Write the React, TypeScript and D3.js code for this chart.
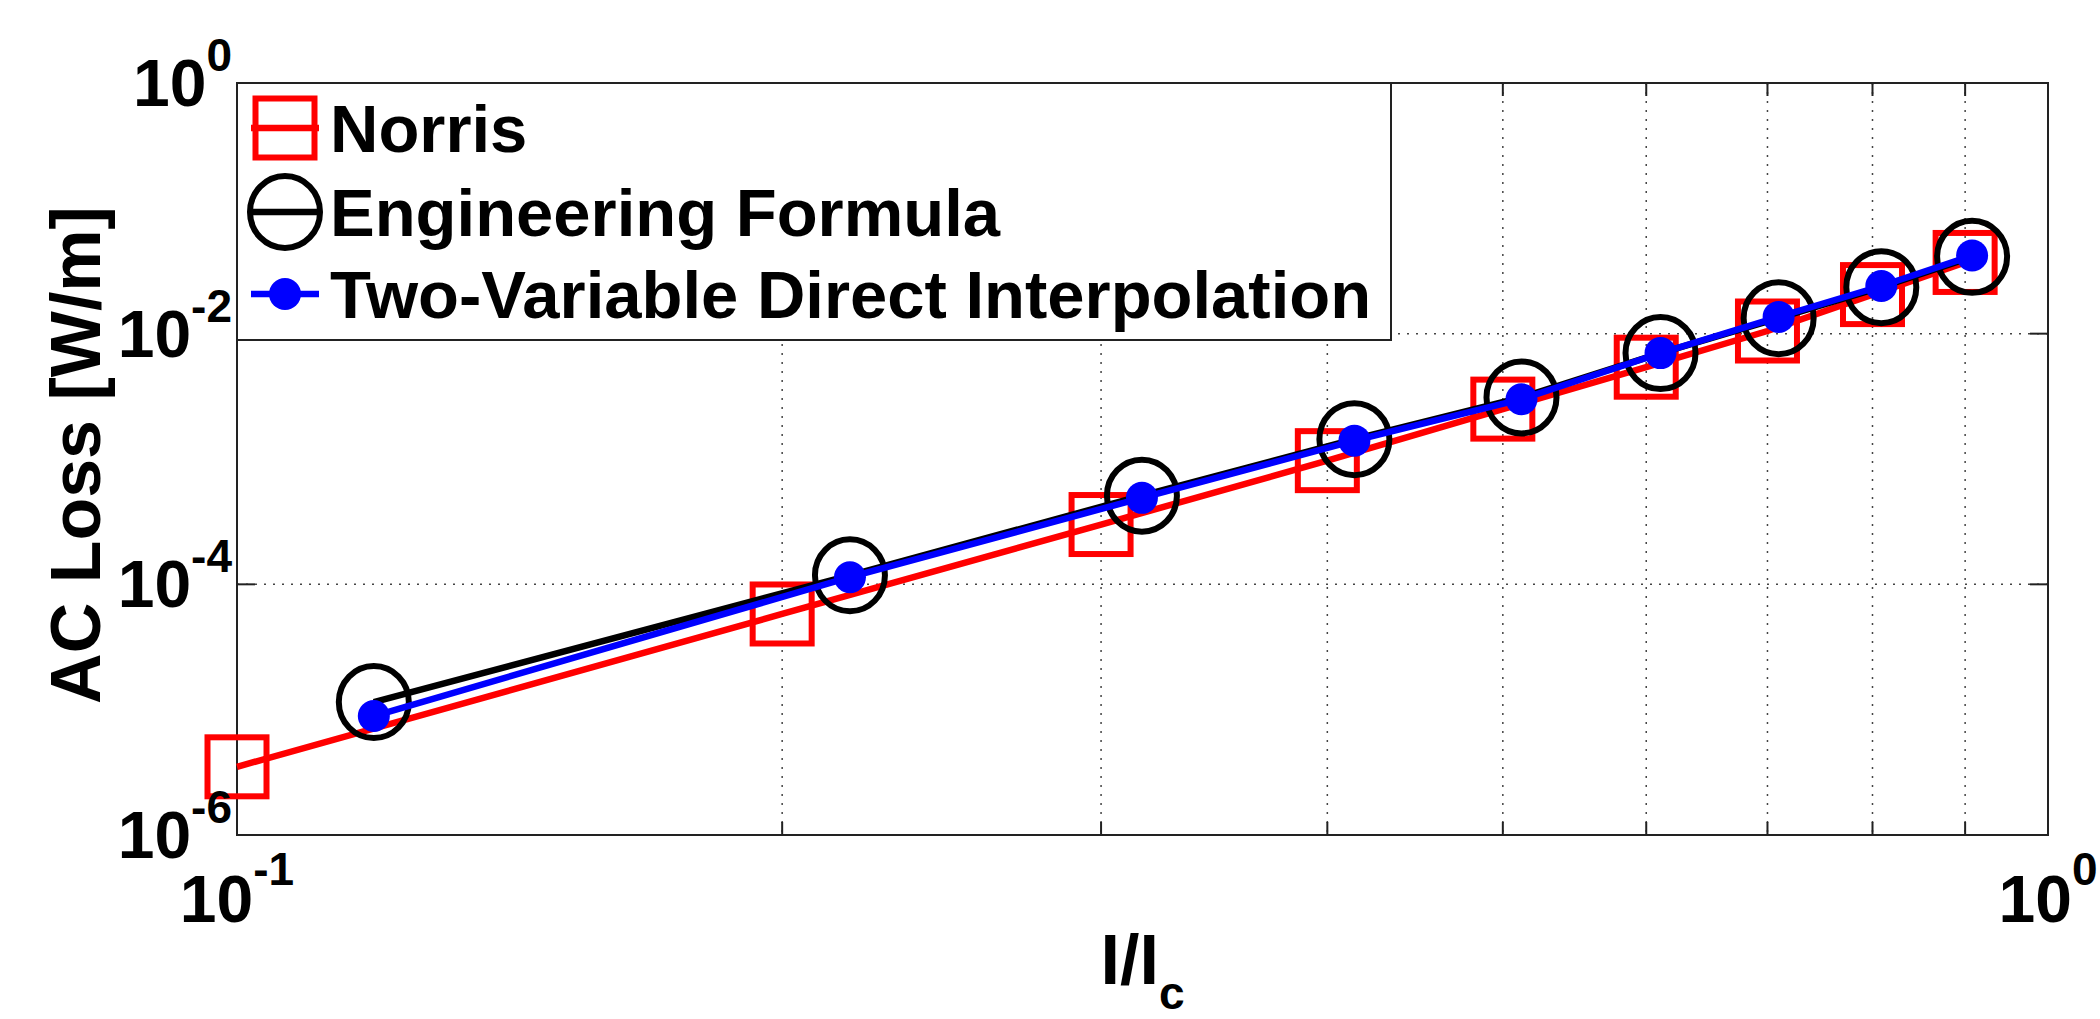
import React from 'react';
import * as d3 from 'd3';

// I/Ic values for each series
const norrisX = [0.1, 0.2, 0.3, 0.4, 0.5, 0.6, 0.7, 0.8, 0.9];
const norrisLoss = [3.5e-6, 5.8e-5, 3.0e-4, 9.7e-4, 2.5e-3, 5.4e-3, 1.05e-2, 2.05e-2, 3.7e-2];

const engX = [0.119, 0.218, 0.316, 0.414, 0.512, 0.611, 0.71, 0.809, 0.908];
const engLoss = [1.15e-5, 1.18e-4, 5.1e-4, 1.44e-3, 3.1e-3, 7.0e-3, 1.33e-2, 2.35e-2, 4.1e-2];
const interpLoss = [8.9e-6, 1.14e-4, 4.9e-4, 1.4e-3, 3.0e-3, 7.0e-3, 1.36e-2, 2.4e-2, 4.2e-2];

const xGrid = [0.2, 0.3, 0.4, 0.5, 0.6, 0.7, 0.8, 0.9];
const xLabels = [{v: 0.1, exp: '-1'}, {v: 1, exp: '0'}];
const yTicks = [1e-6, 1e-4, 1e-2, 1];
const yGrid = [1e-4, 1e-2];
const yLabels = [{v: 1e-6, exp: '-6'}, {v: 1e-4, exp: '-4'}, {v: 1e-2, exp: '-2'}, {v: 1, exp: '0'}];
const legendNames = ['Norris', 'Engineering Formula', 'Two-Variable Direct Interpolation'];

const W = 2100, H = 1019;
const left = 237, right = 2048, top = 83, bottom = 835;
const font = '"Liberation Sans", Arial, Helvetica, sans-serif';

function App() {
    const x = d3.scaleLog().domain([0.1, 1]).range([left, right]);
    const y = d3.scaleLog().domain([1e-6, 1]).range([bottom, top]);
    const line = d3.line<[number, number]>().x(d => x(d[0])).y(d => y(d[1]));

    const norris = norrisX.map((v, i) => [v, norrisLoss[i]] as [number, number]);
    const eng = engX.map((v, i) => [v, engLoss[i]] as [number, number]);
    const interp = engX.map((v, i) => [v, interpLoss[i]] as [number, number]);

    const sq = 59, circRx = 35, circRy = 36, dotR = 16;
    const lw = 6.5, mw = 6;
    const legRows = [128, 212, 294];
    const legMx = 285;

    return (
        <svg width={W} height={H} style={{position: 'absolute', left: 0, top: 0, background: '#fff'}}
             fontFamily={font} fontWeight="bold">
            <rect x={0} y={0} width={W} height={H} fill="#fff" />
            {/* grid */}
            {xGrid.map(v => (
                <line key={'gx' + v} x1={x(v)} x2={x(v)} y1={top} y2={bottom}
                      stroke="#444" strokeWidth={1.5} strokeDasharray="2,7" />
            ))}
            {yGrid.map(v => (
                <line key={'gy' + v} x1={left} x2={right} y1={y(v)} y2={y(v)}
                      stroke="#444" strokeWidth={1.5} strokeDasharray="2,7" />
            ))}
            {/* ticks */}
            {xGrid.map(v => (
                <g key={'tx' + v}>
                    <line x1={x(v)} x2={x(v)} y1={bottom} y2={bottom - 13} stroke="#222" strokeWidth={2} />
                    <line x1={x(v)} x2={x(v)} y1={top} y2={top + 13} stroke="#222" strokeWidth={2} />
                </g>
            ))}
            {yTicks.map(v => (
                <g key={'ty' + v}>
                    <line x1={left} x2={left + 18} y1={y(v)} y2={y(v)} stroke="#222" strokeWidth={2} />
                    <line x1={right} x2={right - 18} y1={y(v)} y2={y(v)} stroke="#222" strokeWidth={2} />
                </g>
            ))}
            {/* frame */}
            <rect x={left} y={top} width={right - left} height={bottom - top} fill="none" stroke="#222" strokeWidth={2} />

            {/* Norris */}
            <path d={line(norris) || ''} fill="none" stroke="#ff0000" strokeWidth={lw} />
            {norris.map((d, i) => (
                <rect key={'n' + i} x={x(d[0]) - sq / 2} y={y(d[1]) - sq / 2} width={sq} height={sq}
                      fill="none" stroke="#ff0000" strokeWidth={mw} />
            ))}
            {/* Engineering formula */}
            <path d={line(eng) || ''} fill="none" stroke="#000" strokeWidth={lw} />
            {eng.map((d, i) => (
                <ellipse key={'e' + i} cx={x(d[0])} cy={y(d[1])} rx={circRx} ry={circRy}
                         fill="none" stroke="#000" strokeWidth={mw} />
            ))}
            {/* Two-variable interpolation */}
            <path d={line(interp) || ''} fill="none" stroke="#0000ff" strokeWidth={lw} />
            {interp.map((d, i) => (
                <circle key={'b' + i} cx={x(d[0])} cy={y(d[1])} r={dotR} fill="#0000ff" />
            ))}

            {/* legend */}
            <rect x={left} y={top} width={1154} height={257} fill="#fff" stroke="#222" strokeWidth={2} />
            <line x1={legMx - 34} x2={legMx + 34} y1={legRows[0]} y2={legRows[0]} stroke="#ff0000" strokeWidth={lw} />
            <rect x={legMx - sq / 2} y={legRows[0] - sq / 2} width={sq} height={sq} fill="none" stroke="#ff0000" strokeWidth={mw} />
            <line x1={legMx - 34} x2={legMx + 34} y1={legRows[1]} y2={legRows[1]} stroke="#000" strokeWidth={lw} />
            <ellipse cx={legMx} cy={legRows[1]} rx={circRx} ry={circRy} fill="none" stroke="#000" strokeWidth={mw} />
            <line x1={legMx - 34} x2={legMx + 34} y1={legRows[2]} y2={legRows[2]} stroke="#0000ff" strokeWidth={lw} />
            <circle cx={legMx} cy={legRows[2]} r={dotR} fill="#0000ff" />
            {legendNames.map((n, i) => (
                <text key={n} x={330} y={legRows[i] + 24} fontSize={67} fill="#000">{n}</text>
            ))}

            {/* tick labels */}
            {xLabels.map(t => (
                <text key={'xl' + t.v} x={x(t.v)} y={922} textAnchor="middle" fill="#000">
                    <tspan fontSize={66}>10</tspan>
                    <tspan fontSize={46} dy={-37}>{t.exp}</tspan>
                </text>
            ))}
            {yLabels.map(t => (
                <text key={'yl' + t.v} x={232} y={y(t.v) + 23} textAnchor="end" fill="#000">
                    <tspan fontSize={66}>10</tspan>
                    <tspan fontSize={46} dy={-35}>{t.exp}</tspan>
                </text>
            ))}

            {/* axis titles */}
            <text x={(left + right) / 2} y={984} textAnchor="middle" fill="#000">
                <tspan fontSize={70}>I/I</tspan>
                <tspan fontSize={46} dy={25}>c</tspan>
            </text>
            <text transform={`translate(100, ${(top + bottom) / 2 - 4}) rotate(-90)`} textAnchor="middle"
                  fontSize={70} fill="#000">AC Loss [W/m]</text>
        </svg>
    );
}

export default App;
